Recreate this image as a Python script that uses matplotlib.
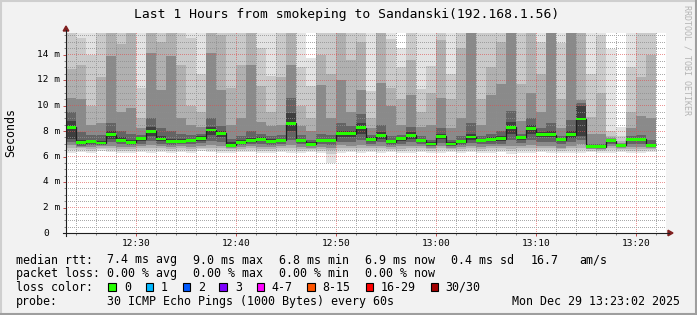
"""
Smokeping "Last 1 Hours" latency graph for Sandanski (192.168.1.56).
Rebuilt with matplotlib in the rrdtool look. Saves out.png.
"""

import numpy as np
import matplotlib
matplotlib.use("Agg")
import matplotlib.pyplot as plt
from matplotlib.patches import Rectangle, Polygon
from matplotlib.lines import Line2D
from matplotlib.ticker import MultipleLocator, FixedLocator
from matplotlib.transforms import blended_transform_factory

W, H = 697, 315
MONO = "DejaVu Sans Mono"

# ── Data (one column per minute, starting 12:23) ────────────────
start_time = "12:23"

median_ms = [8.31, 7.08, 7.16, 7.06, 7.71, 7.29, 7.11, 7.40, 7.97, 7.37,
             7.19, 7.20, 7.27, 7.42, 8.08, 7.82, 6.88, 7.11, 7.24, 7.35,
             7.20, 7.27, 8.60, 7.24, 6.97, 7.27, 7.27, 7.82, 7.79, 8.26,
             7.32, 7.66, 7.14, 7.40, 7.66, 7.27, 6.98, 7.58, 6.98, 7.14,
             7.53, 7.27, 7.32, 7.40, 8.31, 7.50, 8.16, 7.74, 7.72, 7.32,
             7.69, 8.94, 6.80, 6.75, 7.24, 6.88, 7.35, 7.35, 6.88]

# smoke layers: ping rank (of 30 sorted) that bounds each layer
smoke_ranks = [1, 3, 5, 8, 11, 14]

# upper bound of each layer, ms (16 = off the top of the graph)
hi_a = [16, 16, 16, 16, 16, 16, 16, 16, 16, 16,
        16, 16, 16, 16, 16, 16, 16, 16, 16, 16,
        16, 16, 16, 16, 13.7, 16, 16, 16, 16, 16,
        16, 16, 16, 14.5, 16, 16, 16, 16, 16, 16,
        16, 16, 16, 16, 16, 16, 16, 16, 16, 16,
        16, 16, 16, 16, 14.4, 8.3, 16, 16, 16]
hi_b = [16, 15.3, 14.0, 16, 16, 16, 16, 11.4, 16, 16,
        16, 16, 15.3, 12.5, 16, 16, 16, 16, 16, 14.5,
        12.3, 16, 16, 13.0, 11.5, 16, 16, 16, 16, 16,
        11.1, 16, 15.2, 13.0, 16, 11.3, 13.1, 16, 12.5, 16,
        16, 16, 16, 16, 16, 16, 16, 15.0, 16, 14.9,
        16, 16, 12.5, 15.5, 8.0, 7.6, 13.0, 16, 16]
hi_c = [12.9, 13.2, 10.0, 12.2, 16, 14.8, 16, 9.0, 16, 15.0,
        16, 13.2, 10.0, 9.5, 16, 15.5, 11.4, 13.2, 16, 11.5,
        9.5, 12.2, 16, 10.0, 9.0, 14.0, 12.5, 16, 13.6, 15.0,
        9.0, 16, 11.4, 10.5, 13.6, 9.5, 11.0, 15.1, 10.5, 14.5,
        16, 10.5, 13.0, 15.0, 16, 11.7, 16, 12.5, 16, 10.5,
        16, 16, 9.1, 11.0, 7.6, 7.2, 9.5, 12.2, 14.0]
hi_d = [10.6, 10.5, 8.5, 8.6, 13.9, 9.5, 9.8, 8.2, 14.1, 11.2,
        13.9, 9.0, 8.5, 8.3, 14.1, 11.2, 8.5, 9.0, 13.2, 8.7,
        8.4, 8.5, 13.2, 8.4, 8.0, 11.6, 9.0, 12.0, 9.5, 11.2,
        8.2, 11.8, 10.0, 8.5, 10.8, 8.3, 8.5, 10.6, 8.2, 9.0,
        16, 8.5, 10.8, 11.7, 16, 8.8, 11.0, 9.5, 16, 8.2,
        16, 10.4, 7.8, 7.8, 7.45, 7.05, 8.2, 9.2, 9.0]
hi_e = [9.5, 7.9, 7.7, 7.7, 8.6, 8.0, 7.8, 7.7, 9.0, 8.2,
        8.0, 7.8, 7.7, 7.8, 9.0, 8.4, 7.4, 7.6, 8.0, 7.8,
        7.6, 7.7, 10.6, 7.7, 7.3, 7.8, 7.7, 8.6, 8.4, 9.3,
        7.7, 8.5, 7.6, 7.7, 8.3, 7.6, 7.3, 8.2, 7.3, 7.6,
        8.6, 7.6, 7.8, 8.0, 9.6, 7.8, 9.0, 8.2, 8.6, 7.6,
        8.9, 10.2, 7.0, 7.0, 7.35, 6.98, 7.6, 7.7, 7.3]
hi_f = [8.8, 7.3, 7.3, 7.25, 8.0, 7.5, 7.3, 7.55, 8.3, 7.6,
        7.4, 7.4, 7.4, 7.6, 8.3, 8.0, 7.1, 7.3, 7.45, 7.5,
        7.35, 7.4, 9.4, 7.4, 7.1, 7.4, 7.4, 8.0, 8.0, 8.6,
        7.5, 7.9, 7.3, 7.55, 7.9, 7.4, 7.1, 7.8, 7.1, 7.3,
        7.8, 7.4, 7.5, 7.6, 8.7, 7.6, 8.5, 7.9, 8.0, 7.45,
        8.0, 10.0, 6.9, 6.85, 7.3, 6.93, 7.45, 7.45, 7.0]

# lower bound of each layer, ms
lo_a = [6.3, 6.35, 6.3, 6.45, 6.35, 6.3, 6.3, 6.35, 6.3, 6.35,
        6.3, 6.35, 6.3, 6.4, 6.35, 6.25, 6.3, 6.35, 6.35, 6.3,
        6.3, 6.35, 6.3, 6.3, 6.35, 6.3, 5.5, 6.3, 6.35, 6.3,
        6.35, 6.3, 6.35, 6.3, 6.3, 6.35, 6.3, 6.3, 6.35, 6.3,
        6.35, 6.3, 6.3, 6.35, 6.2, 6.3, 6.3, 6.35, 6.3, 6.25,
        6.3, 6.3, 6.35, 6.3, 6.3, 6.35, 6.3, 6.3, 6.35]
lo_b = [6.5, 6.5, 6.45, 6.55, 6.5, 6.45, 6.45, 6.5, 6.5, 6.5,
        6.45, 6.5, 6.45, 6.55, 6.5, 6.45, 6.45, 6.5, 6.5, 6.45,
        6.45, 6.5, 6.5, 6.45, 6.5, 6.45, 6.2, 6.5, 6.5, 6.5,
        6.5, 6.5, 6.5, 6.45, 6.5, 6.5, 6.45, 6.5, 6.5, 6.45,
        6.5, 6.45, 6.5, 6.5, 6.4, 6.5, 6.5, 6.5, 6.5, 6.4,
        6.5, 6.5, 6.45, 6.4, 6.5, 6.5, 6.45, 6.45, 6.5]
lo_c = [6.7, 6.65, 6.6, 6.7, 6.65, 6.6, 6.6, 6.65, 6.7, 6.65,
        6.6, 6.65, 6.6, 6.7, 6.7, 6.65, 6.55, 6.6, 6.65, 6.6,
        6.6, 6.65, 6.7, 6.6, 6.6, 6.6, 6.5, 6.7, 6.65, 6.7,
        6.65, 6.65, 6.6, 6.6, 6.65, 6.65, 6.55, 6.65, 6.6, 6.6,
        6.65, 6.6, 6.65, 6.65, 6.6, 6.65, 6.7, 6.65, 6.65, 6.55,
        6.65, 6.7, 6.55, 6.5, 6.65, 6.6, 6.6, 6.6, 6.55]
lo_d = [6.9, 6.75, 6.75, 6.8, 6.85, 6.75, 6.75, 6.8, 6.9, 6.8,
        6.75, 6.8, 6.75, 6.85, 6.9, 6.85, 6.65, 6.75, 6.8, 6.75,
        6.75, 6.8, 6.9, 6.75, 6.7, 6.75, 6.7, 6.9, 6.85, 6.9,
        6.8, 6.85, 6.75, 6.8, 6.85, 6.8, 6.65, 6.8, 6.7, 6.75,
        6.8, 6.75, 6.8, 6.8, 6.85, 6.8, 6.9, 6.85, 6.85, 6.7,
        6.85, 6.95, 6.6, 6.6, 6.8, 6.7, 6.75, 6.75, 6.65]
lo_e = [7.1, 6.85, 6.9, 6.9, 7.1, 6.95, 6.9, 7.0, 7.2, 7.0,
        6.9, 6.95, 6.95, 7.05, 7.25, 7.15, 6.75, 6.9, 6.95, 6.95,
        6.9, 6.95, 7.3, 6.95, 6.8, 6.95, 6.9, 7.15, 7.1, 7.3,
        6.95, 7.1, 6.9, 7.0, 7.1, 6.95, 6.8, 7.05, 6.8, 6.9,
        7.05, 6.95, 7.0, 7.0, 7.3, 7.05, 7.3, 7.15, 7.15, 6.95,
        7.1, 7.3, 6.7, 6.65, 6.95, 6.8, 7.0, 7.0, 6.75]
lo_f = [7.4, 6.98, 7.03, 6.96, 7.4, 7.15, 7.0, 7.25, 7.6, 7.2,
        7.05, 7.08, 7.12, 7.25, 7.7, 7.5, 6.8, 7.0, 7.1, 7.2,
        7.05, 7.12, 8.0, 7.1, 6.88, 7.12, 7.1, 7.5, 7.5, 7.8,
        7.18, 7.4, 7.02, 7.25, 7.4, 7.12, 6.88, 7.35, 6.88, 7.02,
        7.3, 7.12, 7.18, 7.25, 7.8, 7.3, 7.8, 7.5, 7.5, 7.18,
        7.45, 7.6, 6.72, 6.68, 7.12, 6.82, 7.2, 7.2, 6.8]

smoke_hi = [hi_a, hi_b, hi_c, hi_d, hi_e, hi_f]
smoke_lo = [lo_a, lo_b, lo_c, lo_d, lo_e, lo_f]

x_tick_labels = ["12:30", "12:40", "12:50", "13:00", "13:10", "13:20"]
y_tick_ms = [0, 2, 4, 6, 8, 10, 12, 14]
y_tick_labels = ["0", "2 m", "4 m", "6 m", "8 m", "10 m", "12 m", "14 m"]

loss_labels = ["0", "1", "2", "3", "4-7", "8-15", "16-29", "30/30"]
loss_colors = ["#26ff00", "#00b8ff", "#0059ff", "#7e00ff",
               "#ff00ff", "#ff5500", "#ff0000", "#a10000"]

title = "Last 1 Hours from smokeping to Sandanski(192.168.1.56)"
stats_rtt = ["median rtt:", "7.4 ms avg", "9.0 ms max", "6.8 ms min",
             "6.9 ms now", "0.4 ms sd", "16.7", "am/s"]
stats_loss = ["packet loss:", "0.00 % avg", "0.00 % max", "0.00 % min",
              "0.00 % now"]
probe_text = "30 ICMP Echo Pings (1000 Bytes) every 60s"
stamp_text = "Mon Dec 29 13:23:02 2025"

# ── Layout (pixels in the 697x315 image) ────────────────────────
AX_L, AX_R, AX_T, AX_B = 66, 666, 33, 233
PX_PER_MS = 12.75
PX_PER_MIN = 10
Y_TOP = (AX_B - AX_T) / PX_PER_MS
SPAN_MIN = 60
stat_x = [16, 107.3, 193.3, 279.3, 365, 451, 530.7, 579.3]
box_x = [108.3, 145.7, 182.7, 219.3, 256.7, 307.3, 365.7, 430.7]
label_x = [124, 161, 198, 235, 271.7, 322.7, 380.7, 445.3]
row_base = [263.5, 277.3, 291, 305]

# rrdtool default colours
BACK = "#f2f2f2"
SHADE_A = "#cfcfcf"
SHADE_B = "#9e9e9e"
GRID_MINOR = (0.56, 0.56, 0.56, 0.75)
GRID_MAJOR = (0.87, 0.31, 0.31, 0.60)
AXIS = "#1f1f1f"
ARROW = "#801f1f"


def fx(x):
    return x / W


def fy(y):
    return 1 - y / H


def to_min(hhmm):
    h, m = hhmm.split(":")
    return int(h) * 60 + int(m)


def gray(rank, pings=30):
    # smokeping's shade for the layer bounded by this ping rank
    half = pings // 2
    g = int(190 / half * (half - rank)) + 50
    return "#%02x%02x%02x" % (g, g, g)


def dotted_grid(minor_x, major_x, minor_y, major_y):
    """rrdtool style 1-on/1-off dotted grid as a pixel overlay."""
    w, h = AX_R - AX_L, AX_B - AX_T
    img = np.zeros((h, w, 4))
    for vals, col in ((minor_x, GRID_MINOR), (major_x, GRID_MAJOR)):
        for m in vals:
            c = int(round(m * PX_PER_MIN))
            if 0 <= c < w:
                img[0::2, c] = col
    for vals, col in ((minor_y, GRID_MINOR), (major_y, GRID_MAJOR)):
        for v in vals:
            r = int(round((Y_TOP - v) * PX_PER_MS))
            if 0 <= r < h:
                img[r, 0::2] = col
    return img


def main():
    fig = plt.figure(figsize=(W / 100, H / 100), dpi=100, facecolor=BACK)
    ax = fig.add_axes([fx(AX_L), fy(AX_B), (AX_R - AX_L) / W, (AX_B - AX_T) / H])
    ax.set_facecolor("white")

    cols = np.arange(len(median_ms))
    med = np.array(median_ms)

    # ── Smoke ─────────────────────────────────────────────────
    for rank, hi, lo in zip(smoke_ranks, smoke_hi, smoke_lo):
        hi = np.array(hi)
        lo = np.array(lo)
        ax.bar(cols, hi - lo, bottom=lo, width=1.0, align="edge",
               color=gray(rank), linewidth=0, antialiased=False, zorder=1)

    # ── Grid (over the smoke, as rrdtool does) ────────────────
    t0 = to_min(start_time)
    major_x = [to_min(t) - t0 for t in x_tick_labels]
    minor_x = [m for m in range(1, SPAN_MIN, 2) if m not in major_x]
    minor_y = [v for v in np.arange(0.5, Y_TOP, 0.5) if v not in y_tick_ms]
    grid = dotted_grid(minor_x, major_x, minor_y, y_tick_ms)
    ax.imshow(grid, extent=(0, SPAN_MIN, 0, Y_TOP), origin="upper",
              aspect="auto", interpolation="nearest", zorder=2)

    # ── Median line + loss colour band ────────────────────────
    edges = np.arange(len(median_ms) + 1)
    ax.stairs(med, edges, baseline=None, color="#202020", lw=0.9, zorder=3)
    sw = 0.115
    ax.bar(cols, 2 * sw, bottom=med - sw, width=1.0, align="edge",
           color=loss_colors[0], linewidth=0, antialiased=False, zorder=4)

    # ── Axes, ticks ───────────────────────────────────────────
    ax.set_xlim(0, SPAN_MIN)
    ax.set_ylim(0, Y_TOP)
    ax.xaxis.set_major_locator(FixedLocator(major_x))
    ax.xaxis.set_minor_locator(FixedLocator(list(range(1, SPAN_MIN, 2))))
    ax.set_xticklabels(x_tick_labels, family=MONO, fontsize=6.8)
    ax.yaxis.set_major_locator(FixedLocator(y_tick_ms))
    ax.yaxis.set_minor_locator(MultipleLocator(0.5))
    ax.set_yticklabels([])
    ax.tick_params(which="both", direction="out", width=0.72, color="#8a8a8a")
    ax.tick_params(which="major", length=2.5, color="#c05050")
    ax.tick_params(which="minor", length=1.6)
    ax.tick_params(axis="x", which="major", pad=1.6)
    for s in ax.spines.values():
        s.set_visible(False)

    # y labels drawn by hand: rrdtool keeps "0" where "0 m" would start
    char_w = 6.8 / 72 * 100 * 0.602
    lab_tr = blended_transform_factory(fig.transFigure, ax.transData)
    for v, lab in zip(y_tick_ms, y_tick_labels):
        right = AX_L - 6 - max(0, 3 - len(lab)) * char_w
        ax.text(fx(right), v, lab, transform=lab_tr, ha="right", va="center",
                family=MONO, fontsize=6.8)

    # axis lines with rrdtool arrows
    fig.add_artist(Line2D([fx(AX_L), fx(AX_L)], [fy(AX_B + 3), fy(AX_T - 3)],
                          color=AXIS, lw=0.8))
    fig.add_artist(Line2D([fx(AX_L - 3), fx(AX_R + 3)], [fy(AX_B), fy(AX_B)],
                          color=AXIS, lw=0.8))
    fig.add_artist(Polygon([(fx(AX_L - 2.8), fy(AX_T - 2)), (fx(AX_L + 2.8), fy(AX_T - 2)),
                            (fx(AX_L), fy(AX_T - 7))], closed=True,
                           color=ARROW, transform=fig.transFigure))
    fig.add_artist(Polygon([(fx(AX_R + 2), fy(AX_B - 2.8)), (fx(AX_R + 2), fy(AX_B + 2.8)),
                            (fx(AX_R + 7), fy(AX_B))], closed=True,
                           color=ARROW, transform=fig.transFigure))

    # ── Texts ─────────────────────────────────────────────────
    fig.text(fx(347), fy(18.3), title, ha="center", va="baseline",
             family=MONO, fontsize=9.35)
    fig.text(fx(10.5), fy(132), "Seconds", rotation=90, ha="center",
             va="center", family=MONO, fontsize=8.4)
    fig.text(fx(686.5), fy(60), "RRDTOOL / TOBI OETIKER", rotation=270,
             ha="center", va="center", family=MONO, fontsize=6,
             color="#b4b4b4")

    for x, s in zip(stat_x, stats_rtt):
        fig.text(fx(x), fy(row_base[0]), s, va="baseline", family=MONO, fontsize=8.4)
    for x, s in zip(stat_x, stats_loss):
        fig.text(fx(x), fy(row_base[1]), s, va="baseline", family=MONO, fontsize=8.4)

    fig.text(fx(16), fy(row_base[2]), "loss color:", va="baseline",
             family=MONO, fontsize=8.4)
    for bx, lx, lab, col in zip(box_x, label_x, loss_labels, loss_colors):
        fig.add_artist(Rectangle((fx(bx), fy(290.5)), 7.5 / W, 7.5 / H,
                                 facecolor=col, edgecolor="black", lw=0.8,
                                 transform=fig.transFigure))
        fig.text(fx(lx), fy(row_base[2]), lab, va="baseline",
                 family=MONO, fontsize=8.4)

    fig.text(fx(16), fy(row_base[3]), "probe:", va="baseline",
             family=MONO, fontsize=8.4)
    fig.text(fx(107.3), fy(row_base[3]), probe_text, va="baseline",
             family=MONO, fontsize=8.4)
    fig.text(fx(680), fy(row_base[3]), stamp_text, ha="right", va="baseline",
             family=MONO, fontsize=8.4)

    # 3D frame: light top/left, dark bottom/right
    fig.add_artist(Line2D([0, 1], [fy(1), fy(1)], color=SHADE_A, lw=1.5))
    fig.add_artist(Line2D([fx(1), fx(1)], [0, 1], color=SHADE_A, lw=1.5))
    fig.add_artist(Line2D([0, 1], [fy(314), fy(314)], color=SHADE_B, lw=1.5))
    fig.add_artist(Line2D([fx(696), fx(696)], [0, 1], color=SHADE_B, lw=1.5))

    fig.savefig("out.png", dpi=100, facecolor=fig.get_facecolor())
    plt.close(fig)


if __name__ == "__main__":
    main()
